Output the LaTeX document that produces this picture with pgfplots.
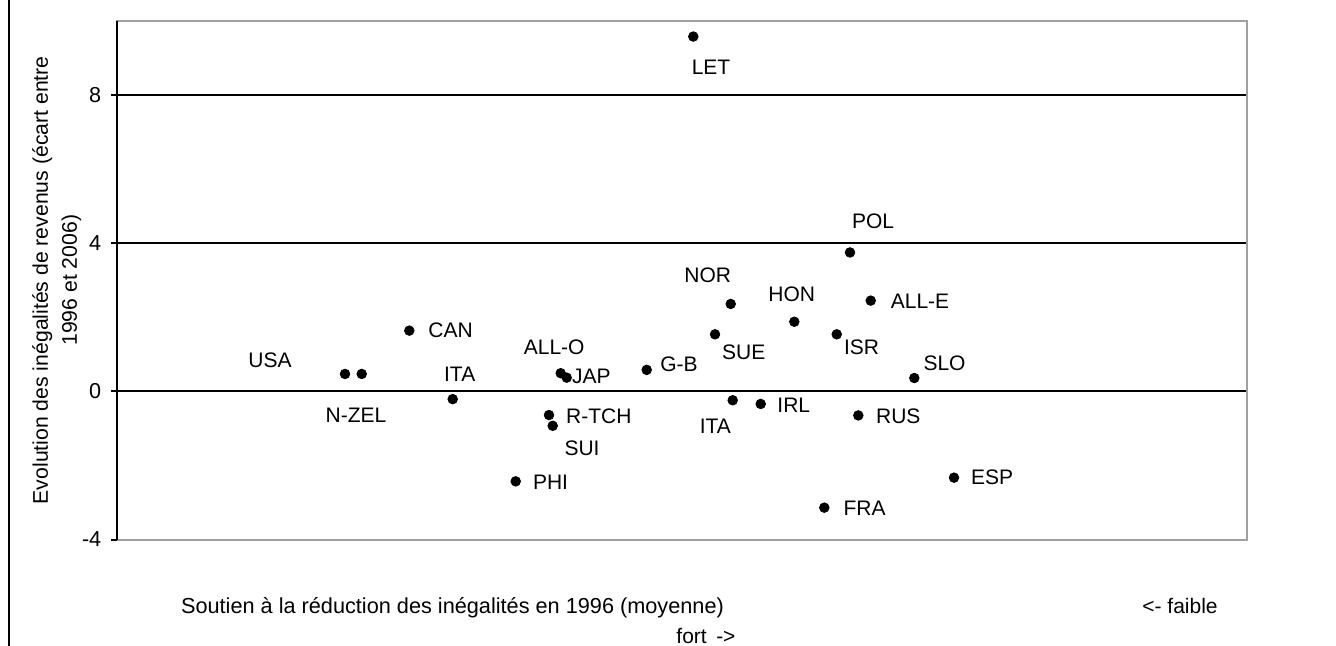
\documentclass[border=0pt]{standalone}
\usepackage{fontspec}
\setmainfont{Liberation Sans}
\usepackage{pgfplots}
\pgfplotsset{compat=1.18}
\usepackage{pgfplotstable}
\definecolor{bordergray}{HTML}{A0A0A0}
\pgfplotstableread{
x      y      label  lx      ly
345.0  0.47   USA    -37.5   6.75
361.7  0.47   N-ZEL  -2.85   -20.5
409.3  1.64   CAN    20.6    0
452.7  -0.21  ITA    3.5     12.3
560.7  0.49   ALL-O  -3.25   12.9
566.7  0.37   JAP    12.3    0.75
549.0  -0.64  R-TCH  24.9    -0.45
552.7  -0.93  SUI    14.65   -11.35
515.7  -2.43  PHI    17.4    -0.3
646.7  0.58   G-B    16.15   2.65
730.7  2.36   NOR    -11.5   14.35
715.0  1.54   SUE    14.35   -9.2
794.3  1.88   HON    -1.3    13.5
870.7  2.45   ALL-E  24.65   -0.15
836.7  1.54   ISR    12.4    -6.45
914.3  0.36   SLO    15.1    7.6
732.7  -0.24  ITA    -8.7    -13
760.7  -0.34  IRL    16.55   -0.5
858.3  -0.65  RUS    20      -0.3
954.0  -2.33  ESP    19      0
824.3  -3.14  FRA    20.1    -0.3
850.0  3.75   POL    11.5    15.5
693.3  9.58   LET    8.85    -15.15
}\datatable
\begin{document}
\begin{tikzpicture}[font=\fontsize{10.5}{12.6}\selectfont]
\useasboundingbox (0,0) rectangle (668pt,-323pt);
\draw[line width=1.25pt] (4.5pt,0) -- (4.5pt,-323pt);
\begin{axis}[
  at={(58.65pt,-10.5pt)}, anchor=north west,
  scale only axis, width=564.85pt, height=259.25pt,
  xmin=117.3, xmax=1247, ymin=-4, ymax=10,
  xtick=\empty,
  ytick={0,4,8}, extra y ticks={-4}, extra y tick style={grid=none},
  ymajorgrids, major grid style={black, line width=1pt},
  axis line style={bordergray, line width=1pt},
  tick align=outside, ytick pos=left, major tick length=3pt,
  tick style={black, line width=1pt},
  /pgf/number format/assume math mode=true,
  yticklabel style={font=\fontsize{10.8}{12.6}\selectfont, xshift=-1.5pt},
  every axis y label/.style={at={(axis description cs:-0.0535,0.5)}, rotate=90, anchor=center, align=center, font=\fontsize{10.6}{14.5}\selectfont},
  ylabel={Evolution des inégalités de revenus (écart entre\\1996 et 2006)},
  clip=false,
]
\addplot[only marks, mark=*, mark size=2.4pt, black,
  point meta=explicit symbolic,
  visualization depends on={\thisrow{lx}\as\lblx},
  visualization depends on={\thisrow{ly}\as\lbly},
  nodes near coords,
  every node near coord/.append style={anchor=center, inner sep=0pt, xshift=\lblx pt, yshift=\lbly pt, font=\fontsize{10.5}{12.6}\selectfont, black},
] table[x=x, y=y, meta=label] {\datatable};
\draw[black, line width=1pt] (rel axis cs:0,0) -- (rel axis cs:0,1);
\node[anchor=base, font=\fontsize{10.85}{13}\selectfont] at (axis description cs:0.2967,-0.1418) {Soutien à la réduction des inégalités en 1996 (moyenne)};
\node[anchor=base] at (axis description cs:0.9407,-0.1418) {<- faible};
\node[anchor=base] at (axis description cs:0.5211,-0.2015) {fort\hspace{0.45em}->};
\end{axis}
\end{tikzpicture}
\end{document}
